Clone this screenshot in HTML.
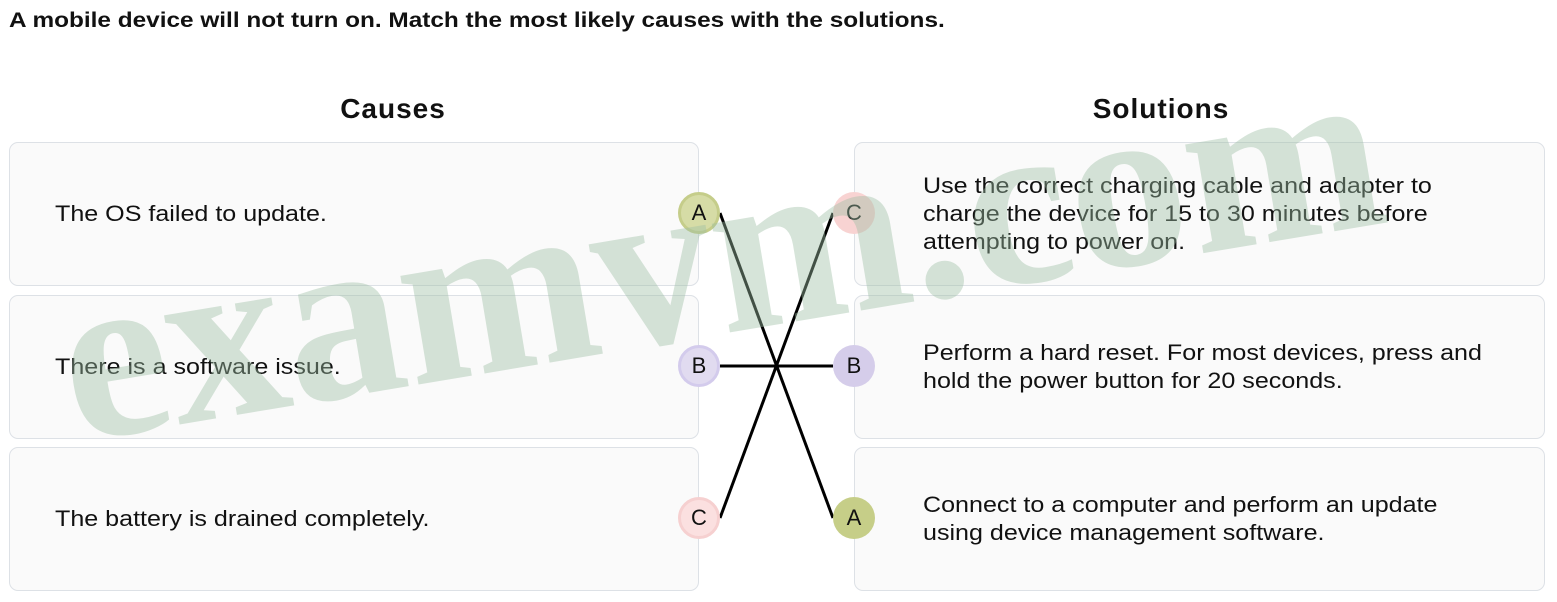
<!DOCTYPE html>
<html><head><style>
body{margin:0;width:1557px;height:602px;background:#fff;font-family:"Liberation Sans",sans-serif;position:relative;overflow:hidden;color:#111}
.s{display:inline-block;transform:scaleX(1.14);transform-origin:0 50%;white-space:nowrap}
.t{position:absolute;left:9px;top:9px;font-size:21px;font-weight:bold;white-space:nowrap}
.h{position:absolute;font-size:28px;font-weight:bold;top:93px;width:300px;text-align:center;letter-spacing:1px}
.b{position:absolute;width:690px;height:144px;border:1px solid #dde1e6;border-radius:9px;background:#fafafa;box-sizing:border-box;display:flex;align-items:center;font-size:22px;line-height:28px;white-space:nowrap}
.l{left:9px;padding-left:45px}
.r{left:854px;width:691px;padding-left:68px}
.c{position:absolute;width:42px;height:42px;border-radius:50%;box-sizing:border-box;display:flex;align-items:center;justify-content:center;font-size:22px}
</style></head><body>
<div class="t"><span class="s" style="transform:scaleX(1.16)">A mobile device will not turn on. Match the most likely causes with the solutions.</span></div>
<div class="h" style="left:243px">Causes</div>
<div class="h" style="left:1011px">Solutions</div>
<div class="b l" style="top:142px"><span class="s">The OS failed to update.</span></div>
<div class="b l" style="top:295px"><span class="s">There is a software issue.</span></div>
<div class="b l" style="top:447px"><span class="s">The battery is drained completely.</span></div>
<div class="b r" style="top:142px"><span class="s">Use the correct charging cable and adapter to<br>charge the device for 15 to 30 minutes before<br>attempting to power on.</span></div>
<div class="b r" style="top:295px"><span class="s">Perform a hard reset. For most devices, press and<br>hold the power button for 20 seconds.</span></div>
<div class="b r" style="top:447px"><span class="s">Connect to a computer and perform an update<br>using device management software.</span></div>
<svg width="1557" height="602" style="position:absolute;left:0;top:0">
<g stroke="#000" stroke-width="3">
<line x1="720" y1="213" x2="833" y2="518"/>
<line x1="720" y1="366" x2="833" y2="366"/>
<line x1="720" y1="518" x2="833" y2="213"/>
</g>
</svg>
<div class="c" style="left:678px;top:192px;background:#d6dca6;border:3px solid #c5cd8a">A</div>
<div class="c" style="left:678px;top:345px;background:#e1dbf0;border:3px solid #d3cbec">B</div>
<div class="c" style="left:678px;top:497px;background:#fbe0e0;border:3px solid #f6d0d0">C</div>
<div class="c" style="left:833px;top:192px;background:#f8d3d2">C</div>
<div class="c" style="left:833px;top:345px;background:#d5cdea">B</div>
<div class="c" style="left:833px;top:497px;background:#c6ce88">A</div>
<svg width="1557" height="602" style="position:absolute;left:0;top:0;pointer-events:none">
<text x="75" y="442" transform="rotate(-9.5 75 442)" font-family="Liberation Serif,serif" font-weight="bold" font-size="240" fill="#9dbfa5" fill-opacity="0.42" textLength="1335" lengthAdjust="spacingAndGlyphs">examvm.com</text>
</svg>
</body></html>
